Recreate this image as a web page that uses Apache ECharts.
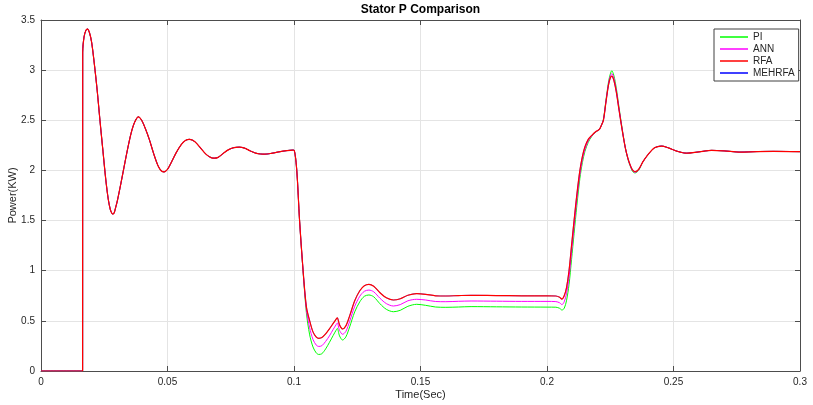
<!DOCTYPE html>
<html>
<head>
<meta charset="utf-8">
<script src="https://cdn.jsdelivr.net/npm/echarts@6/dist/echarts.min.js"></script>
<style>html,body{margin:0;padding:0;background:#fff;}#chart{width:813px;height:405px;}</style>
</head>
<body>
<div id="chart"></div>
<script>
// ---- Data (time in s, power in kW) ----
// Shared start-up transient (all four controllers coincide)
const headTime = [0, 0.0160, 0.01644, 0.01648, 0.0170, 0.0178, 0.0184, 0.0192, 0.0200, 0.0210, 0.0222, 0.0233, 0.0245, 0.0256, 0.0266, 0.0274, 0.0280, 0.0284, 0.0289, 0.0295, 0.0302, 0.0315, 0.0328, 0.0342, 0.0356, 0.0370, 0.0385, 0.0398, 0.0412, 0.0428, 0.0445, 0.0462, 0.0475, 0.0486, 0.0500, 0.0515, 0.0535, 0.0555, 0.0572, 0.0586, 0.0600, 0.0615, 0.0635, 0.0655, 0.0672, 0.0685, 0.0700, 0.0718, 0.0740, 0.0762, 0.0784, 0.0805, 0.0825, 0.0848, 0.0868, 0.0885, 0.0910, 0.0940, 0.0970, 0.0995];
const headPower = [0, 0, 0, 3.18, 3.33, 3.40, 3.41, 3.37, 3.28, 3.08, 2.80, 2.50, 2.19, 1.91, 1.71, 1.61, 1.573, 1.565, 1.575, 1.63, 1.70, 1.86, 2.03, 2.21, 2.37, 2.48, 2.535, 2.50, 2.42, 2.31, 2.17, 2.05, 1.997, 1.985, 2.01, 2.08, 2.18, 2.26, 2.30, 2.31, 2.30, 2.27, 2.21, 2.155, 2.128, 2.122, 2.13, 2.165, 2.205, 2.227, 2.232, 2.222, 2.197, 2.173, 2.164, 2.162, 2.170, 2.185, 2.197, 2.203];

// Step-change region where the controllers differ
const midTime = [0.1001, 0.1011, 0.1022, 0.1036, 0.1049, 0.1062, 0.1075, 0.1088, 0.1098, 0.1110, 0.1125, 0.1140, 0.1155, 0.1166, 0.1171, 0.1180, 0.1192, 0.1205, 0.1220, 0.1240, 0.1260, 0.1278, 0.1296, 0.1315, 0.1340, 0.1365, 0.1393, 0.1420, 0.1450, 0.1485, 0.1520, 0.1560, 0.1600, 0.1650, 0.1700, 0.1800, 0.1900, 0.2000, 0.2035, 0.2050, 0.2059, 0.2068, 0.2077, 0.2087, 0.2097, 0.2107, 0.2118, 0.2130, 0.2140, 0.2150, 0.2163, 0.2177, 0.2192, 0.2207, 0.2215, 0.2223, 0.2233, 0.2243, 0.2250, 0.2256, 0.2264, 0.2274, 0.2283, 0.2291, 0.2300, 0.2310, 0.2320, 0.2328, 0.2338, 0.2348, 0.2362];
const piMid = [2.20, 2.00, 1.50, 0.99, 0.58, 0.36, 0.24, 0.18, 0.165, 0.172, 0.22, 0.285, 0.355, 0.405, 0.425, 0.35, 0.309, 0.34, 0.44, 0.59, 0.69, 0.745, 0.758, 0.74, 0.67, 0.615, 0.591, 0.605, 0.645, 0.665, 0.655, 0.638, 0.635, 0.638, 0.642, 0.640, 0.638, 0.637, 0.636, 0.625, 0.608, 0.625, 0.70, 0.86, 1.11, 1.37, 1.65, 1.92, 2.08, 2.19, 2.28, 2.34, 2.38, 2.41, 2.45, 2.51, 2.70, 2.88, 2.96, 2.994, 2.95, 2.82, 2.66, 2.52, 2.37, 2.22, 2.11, 2.05, 1.99, 1.975, 2.00];
const annMid = [2.20, 2.00, 1.50, 0.995, 0.61, 0.43, 0.315, 0.258, 0.245, 0.252, 0.295, 0.35, 0.415, 0.46, 0.479, 0.405, 0.366, 0.395, 0.495, 0.645, 0.745, 0.795, 0.807, 0.79, 0.725, 0.672, 0.648, 0.662, 0.70, 0.715, 0.708, 0.693, 0.691, 0.695, 0.698, 0.696, 0.694, 0.694, 0.692, 0.680, 0.662, 0.69, 0.77, 0.93, 1.18, 1.44, 1.71, 1.96, 2.11, 2.21, 2.295, 2.345, 2.383, 2.41, 2.45, 2.505, 2.69, 2.865, 2.94, 2.967, 2.925, 2.80, 2.645, 2.51, 2.365, 2.22, 2.115, 2.055, 1.997, 1.981, 2.005];
const rfaMid = [2.20, 2.00, 1.50, 1.00, 0.64, 0.50, 0.39, 0.338, 0.326, 0.333, 0.37, 0.42, 0.475, 0.515, 0.531, 0.46, 0.419, 0.45, 0.55, 0.70, 0.80, 0.85, 0.864, 0.845, 0.78, 0.73, 0.708, 0.72, 0.755, 0.772, 0.765, 0.750, 0.748, 0.752, 0.755, 0.752, 0.750, 0.750, 0.748, 0.735, 0.716, 0.75, 0.83, 1.00, 1.25, 1.50, 1.76, 2.00, 2.14, 2.236, 2.31, 2.35, 2.385, 2.41, 2.45, 2.50, 2.68, 2.85, 2.92, 2.94, 2.90, 2.78, 2.63, 2.50, 2.36, 2.22, 2.12, 2.06, 2.005, 1.987, 2.01];
const mehrfaMid = [2.20, 2.00, 1.50, 1.00, 0.64, 0.50, 0.39, 0.338, 0.326, 0.333, 0.37, 0.42, 0.475, 0.515, 0.531, 0.46, 0.419, 0.45, 0.55, 0.70, 0.80, 0.85, 0.864, 0.845, 0.78, 0.73, 0.708, 0.72, 0.755, 0.772, 0.765, 0.750, 0.748, 0.752, 0.755, 0.752, 0.750, 0.750, 0.748, 0.735, 0.716, 0.75, 0.83, 1.00, 1.25, 1.50, 1.76, 2.00, 2.14, 2.236, 2.31, 2.35, 2.385, 2.41, 2.45, 2.50, 2.68, 2.85, 2.92, 2.94, 2.90, 2.78, 2.63, 2.50, 2.36, 2.22, 2.12, 2.06, 2.005, 1.987, 2.01];

// Shared settling tail
const tailTime = [0.2380, 0.2400, 0.2425, 0.2453, 0.2480, 0.2510, 0.2552, 0.2600, 0.2651, 0.2700, 0.2763, 0.2830, 0.2895, 0.3000];
const tailPower = [2.09, 2.16, 2.225, 2.243, 2.225, 2.195, 2.172, 2.185, 2.20, 2.195, 2.183, 2.188, 2.19, 2.187];

const seriesNames = ['PI', 'ANN', 'RFA', 'MEHRFA'];
const xTicks = { min: 0, max: 0.3, step: 0.05 };
const yTicks = { min: 0, max: 3.5, step: 0.5 };

// ---- Build ----
function build(mid) {
  const pts = [];
  headTime.forEach((t, i) => pts.push([t, headPower[i]]));
  midTime.forEach((t, i) => pts.push([t, mid[i]]));
  tailTime.forEach((t, i) => pts.push([t, tailPower[i]]));
  return pts;
}

const FONT = 'Liberation Sans, Arial, Helvetica, sans-serif';
const AXIS_COLOR = '#4d4d4d';
const TEXT_COLOR = '#262626';

const chart = echarts.init(document.getElementById('chart'), null, { renderer: 'canvas' });

function lineSeries(name, color, data, z, width) {
  return {
    name: name, type: 'line', data: data, xAxisIndex: 0, yAxisIndex: 0,
    showSymbol: false, symbol: 'none', smooth: 0.3, z: z,
    lineStyle: { color: color, width: width }, itemStyle: { color: color },
    emphasis: { disabled: true }
  };
}

const tickFmt = v => String(+v.toFixed(2));

chart.setOption({
  animation: false,
  backgroundColor: '#ffffff',
  textStyle: { fontFamily: FONT },
  grid: { left: 41, right: 13, top: 20, bottom: 34, containLabel: false, outerBoundsMode: 'none' },
  graphic: [{
    type: 'text', x: 420.5, y: 10, z: 10,
    style: { text: 'Stator P Comparison', x: 0, y: 0, textAlign: 'center', textVerticalAlign: 'middle',
             font: 'bold 12px ' + FONT, fill: '#000' }
  }],
  legend: {
    data: seriesNames, orient: 'vertical', left: 714, top: 29,
    padding: [2, 4, 2, 6], itemGap: 0, itemWidth: 28, itemHeight: 1.5, icon: 'rect',
    backgroundColor: '#ffffff', borderColor: '#404040', borderWidth: 1, borderRadius: 0,
    textStyle: { fontSize: 10, lineHeight: 12, color: TEXT_COLOR, fontFamily: FONT },
    selectedMode: false
  },
  xAxis: [{
    type: 'value', position: 'bottom', min: xTicks.min, max: xTicks.max, interval: xTicks.step,
    name: 'Time(Sec)', nameLocation: 'middle', nameGap: 18, nameMoveOverlap: false,
    nameTextStyle: { fontSize: 11, color: TEXT_COLOR, fontFamily: FONT },
    axisLine: { show: true, onZero: false, lineStyle: { color: AXIS_COLOR, width: 1 } },
    axisTick: { show: true, inside: true, length: 5, lineStyle: { color: AXIS_COLOR } },
    axisLabel: { fontSize: 10, color: TEXT_COLOR, margin: 6, formatter: tickFmt, fontFamily: FONT },
    splitLine: { show: true, lineStyle: { color: '#e4e4e4', width: 1 } }
  }, {
    type: 'value', position: 'top', min: xTicks.min, max: xTicks.max, interval: xTicks.step,
    axisLine: { show: true, onZero: false, lineStyle: { color: AXIS_COLOR, width: 1 } },
    axisTick: { show: true, inside: true, length: 5, lineStyle: { color: AXIS_COLOR } },
    axisLabel: { show: false }, splitLine: { show: false }
  }],
  yAxis: [{
    type: 'value', position: 'left', min: yTicks.min, max: yTicks.max, interval: yTicks.step,
    name: 'Power(KW)', nameLocation: 'middle', nameGap: 23, nameMoveOverlap: false,
    nameTextStyle: { fontSize: 11, color: TEXT_COLOR, fontFamily: FONT },
    axisLine: { show: true, onZero: false, lineStyle: { color: AXIS_COLOR, width: 1 } },
    axisTick: { show: true, inside: true, length: 5, lineStyle: { color: AXIS_COLOR } },
    axisLabel: { fontSize: 10, color: TEXT_COLOR, margin: 6, formatter: tickFmt, fontFamily: FONT },
    splitLine: { show: true, lineStyle: { color: '#e4e4e4', width: 1 } }
  }, {
    type: 'value', position: 'right', min: yTicks.min, max: yTicks.max, interval: yTicks.step,
    axisLine: { show: true, onZero: false, lineStyle: { color: AXIS_COLOR, width: 1 } },
    axisTick: { show: true, inside: true, length: 5, lineStyle: { color: AXIS_COLOR } },
    axisLabel: { show: false }, splitLine: { show: false }
  }],
  series: [
    lineSeries('PI', '#00ff00', build(piMid), 2, 1),
    lineSeries('ANN', '#ff00ff', build(annMid), 3, 1),
    lineSeries('MEHRFA', '#0000ff', build(mehrfaMid), 4, 0.6),
    lineSeries('RFA', '#ff0000', build(rfaMid), 5, 1.2)
  ]
});
</script>
</body>
</html>
